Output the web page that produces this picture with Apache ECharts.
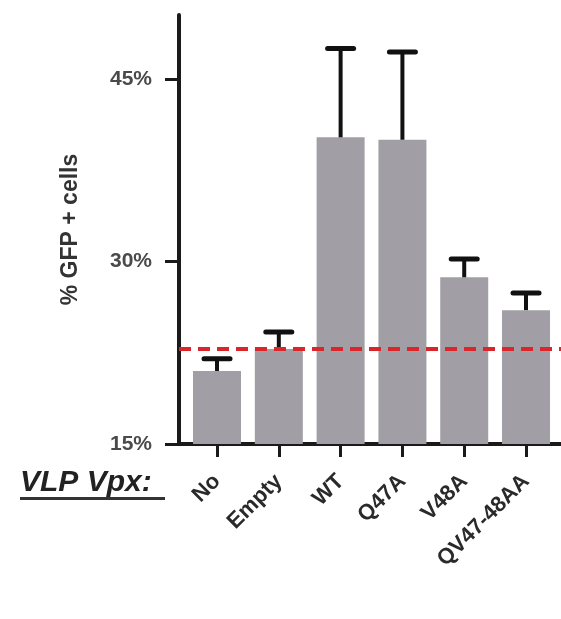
<!DOCTYPE html>
<html>
<head>
<meta charset="utf-8">
<script src="https://cdn.jsdelivr.net/npm/echarts@6/dist/echarts.min.js"></script>
<style>
html,body{margin:0;padding:0;background:#fff;}
#chart{width:561px;height:619px;}
</style>
</head>
<body>
<div id="chart"></div>
<script>
// Data
const categories = ['No', 'Empty', 'WT', 'Q47A', 'V48A', 'QV47-48AA'];
const means = [21.0, 22.8, 40.2, 40.0, 28.7, 26.0];
const upper = [22.0, 24.2, 47.5, 47.2, 30.2, 27.4];
const referenceLevel = 22.8;
const yTicks = [15, 30, 45];
const yAxisTitle = '% GFP + cells';
const xAxisTitle = 'VLP Vpx:';

const idx = categories.map((c, i) => i);
const barData = means.map((m, i) => [i, m]);
const errData = means.map((m, i) => [i, m, upper[i]]);

const chart = echarts.init(document.getElementById('chart'), null, {renderer: 'canvas'});
const font = 'Liberation Sans, Arial, sans-serif';

chart.setOption({
  animation: false,
  backgroundColor: '#fff',
  grid: {left: 179, top: 15, right: 0, bottom: 175, containLabel: false},
  xAxis: {
    type: 'value',
    min: -0.615,
    max: 5.566,
    splitLine: {show: false},
    axisLine: {show: true, onZero: false, lineStyle: {color: '#1a1a1a', width: 4}},
    axisTick: {show: true, customValues: idx, length: 13, lineStyle: {color: '#1a1a1a', width: 3}},
    axisLabel: {
      show: true, customValues: idx, rotate: 45, margin: 34,
      formatter: v => categories[Math.round(v)] || '',
      fontFamily: font, fontWeight: 'bold', fontSize: 22, color: '#2a2a2a'
    }
  },
  yAxis: {
    type: 'value',
    min: 15,
    max: 50.25,
    interval: 15,
    splitLine: {show: false},
    axisLine: {show: true, onZero: false, lineStyle: {color: '#1a1a1a', width: 4}},
    axisTick: {show: true, customValues: yTicks, length: 14, lineStyle: {color: '#1a1a1a', width: 3}},
    axisLabel: {
      margin: 27, customValues: yTicks,
      formatter: v => v + '%',
      fontFamily: font, fontWeight: 'bold', fontSize: 21, color: '#4a4a4a'
    },
    name: yAxisTitle,
    nameLocation: 'middle',
    nameRotate: 90,
    nameGap: 97,
    nameTextStyle: {fontFamily: font, fontWeight: 'bold', fontSize: 23, color: '#333'}
  },
  graphic: [
    {type: 'text', left: 20, top: 468,
     style: {text: xAxisTitle, font: 'italic bold 30px Liberation Sans, Arial, sans-serif', fill: '#222'}},
    {type: 'rect', shape: {x: 20, y: 497, width: 145, height: 3}, style: {fill: '#333'}}
  ],
  series: [
    {
      type: 'bar',
      data: barData,
      barWidth: 48,
      itemStyle: {color: '#a19fa5'},
      z: 2
    },
    {
      type: 'custom',
      data: errData,
      z: 3,
      renderItem: function (params, api) {
        const x = api.value(0);
        const p0 = api.coord([x, api.value(1)]);
        const p1 = api.coord([x, api.value(2)]);
        const hw = 13;
        return {
          type: 'group',
          children: [
            {type: 'line', shape: {x1: p0[0], y1: p0[1], x2: p1[0], y2: p1[1]},
             style: {stroke: '#111', lineWidth: 4}},
            {type: 'line', shape: {x1: p1[0] - hw, y1: p1[1], x2: p1[0] + hw, y2: p1[1]},
             style: {stroke: '#111', lineWidth: 5, lineCap: 'round'}}
          ]
        };
      },
      markLine: {
        silent: true,
        symbol: 'none',
        label: {show: false},
        z: 5,
        lineStyle: {color: '#d8262a', type: [12, 7], width: 4},
        data: [{yAxis: referenceLevel}]
      }
    }
  ]
});
</script>
</body>
</html>
